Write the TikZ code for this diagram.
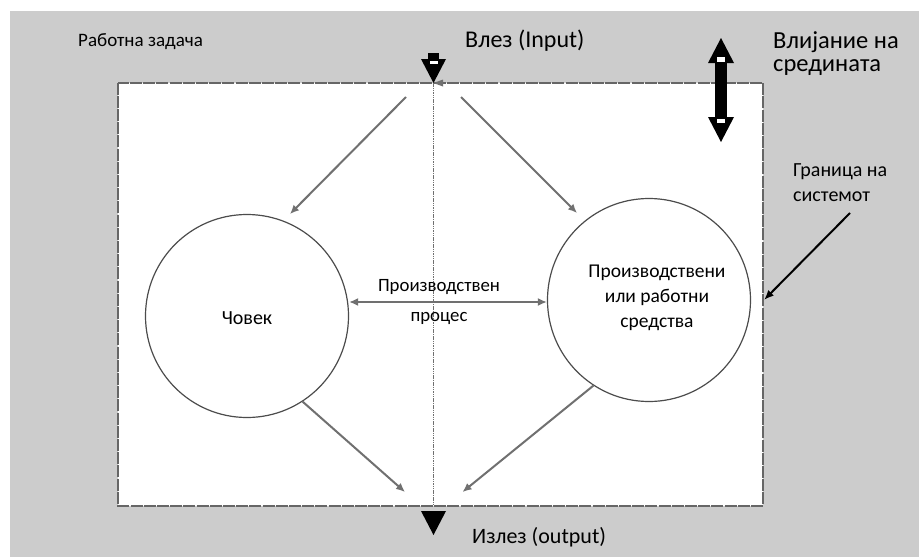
\documentclass[tikz,border=0pt]{standalone}
\usepackage{fontspec}
\setmainfont{Carlito}
\usetikzlibrary{arrows.meta}
\definecolor{bggray}{HTML}{CCCCCC}
\definecolor{linegray}{HTML}{707070}
\definecolor{bordergray}{HTML}{666666}
\begin{document}
\begin{tikzpicture}[x=1pt,y=-1pt,
  lbl/.style={inner sep=0pt, text=black},
  circ/.style={circle, draw=black!70, line width=1.2pt, minimum size=203pt, inner sep=0pt},
  flow/.style={draw=linegray, line width=2pt, -{Latex[length=9pt,width=8pt]}},
  flowtwo/.style={draw=linegray, line width=2.2pt, {Latex[length=9pt,width=8pt]}-{Latex[length=9pt,width=8pt]}},
  border/.style={draw=bordergray, line width=2pt, dash pattern=on 12pt off 1.2pt},
  blockarrow/.style={fill=black}
]
\useasboundingbox (0,0) rectangle (919,557);
% background
\fill[bggray] (10,11) rectangle (919,557);
\fill[white] (118,82.5) rectangle (763,505.5);
\draw[border] (118,82.5) rectangle (763,505.5);

% vertical dotted line
\coordinate (topmid) at (433.5,83);
\coordinate (botmid) at (433.5,505.5);
\draw[linegray, line width=1.6pt, dash pattern=on 1.5pt off 0.8pt] (topmid) -- (botmid);

% input block arrow (down)
\fill[blockarrow] (428,53) rectangle (439,60);
\fill[blockarrow] (421,59) -- (446,59) -- (topmid) -- cycle;
\fill[white] (429.5,60.5) rectangle (437.5,64);
% small gray arrowhead at top
\fill[linegray] (topmid) -- (443,79.5) -- (443,86.5) -- cycle;

% output arrow
\fill[blockarrow] (421,511) -- (446,511) -- (433.5,535) -- cycle;

% environment double block arrow
\fill[blockarrow] (715,62) rectangle (727,118);
\fill[blockarrow] (721,38) -- (734,63) -- (708,63) -- cycle;
\fill[blockarrow] (708,117) -- (734,117) -- (721,142) -- cycle;
\fill[white] (717,57) rectangle (725,62);
\fill[white] (717,119) rectangle (725,123);

% circles
\node[circ] (man) at (247,316) {};
\node[circ] (means) at (649,300) {};
\node[lbl, font=\fontsize{20}{23}\selectfont] (mantxt) at (247,318) {Човек};
\node[lbl, font=\fontsize{19.5}{25}\selectfont, align=center] (meanstxt) at (657,298) {Производствени\\или работни\\средства};

% flow arrows
\coordinate (inL) at (406,97);
\coordinate (inR) at (461,97);
\coordinate (outL) at (405,492);
\coordinate (outR) at (462.5,492);
\draw[flow] (inL) -- (290,214);
\draw[flow] (inR) -- (577,213);
\draw[flow] (man.-57) -- (outL);
\draw[flow] (means.-123) -- (outR);
\draw[flowtwo] (man.east |- 0,302) -- (means.west |- 0,302);

% process label
\node[lbl, font=\fontsize{18.8}{30}\selectfont, align=center] (proc) at (439,302) {Производствен\\процес};

% labels
\node[lbl, anchor=west, font=\fontsize{19}{22}\selectfont] (task) at (78,42) {Работна задача};
\node[lbl, anchor=west, font=\fontsize{24}{27}\selectfont] (input) at (465,41) {Влез (Input)};
\node[lbl, anchor=west, font=\fontsize{24.5}{23}\selectfont, align=left] (env) at (773,53.5) {Влијание на\\средината};
\node[lbl, anchor=west, font=\fontsize{20}{25}\selectfont, align=left] (bound) at (793,182.5) {Граница на\\системот};
\node[lbl, anchor=west, font=\fontsize{22}{25}\selectfont] (output) at (472,537) {Излез (output)};

% boundary pointer
\coordinate (bstart) at (850,213);
\coordinate (bend) at (764,300);
\draw[black, line width=2pt, -{Latex[length=10pt,width=8pt]}] (bstart) -- (bend);
\end{tikzpicture}
\end{document}
